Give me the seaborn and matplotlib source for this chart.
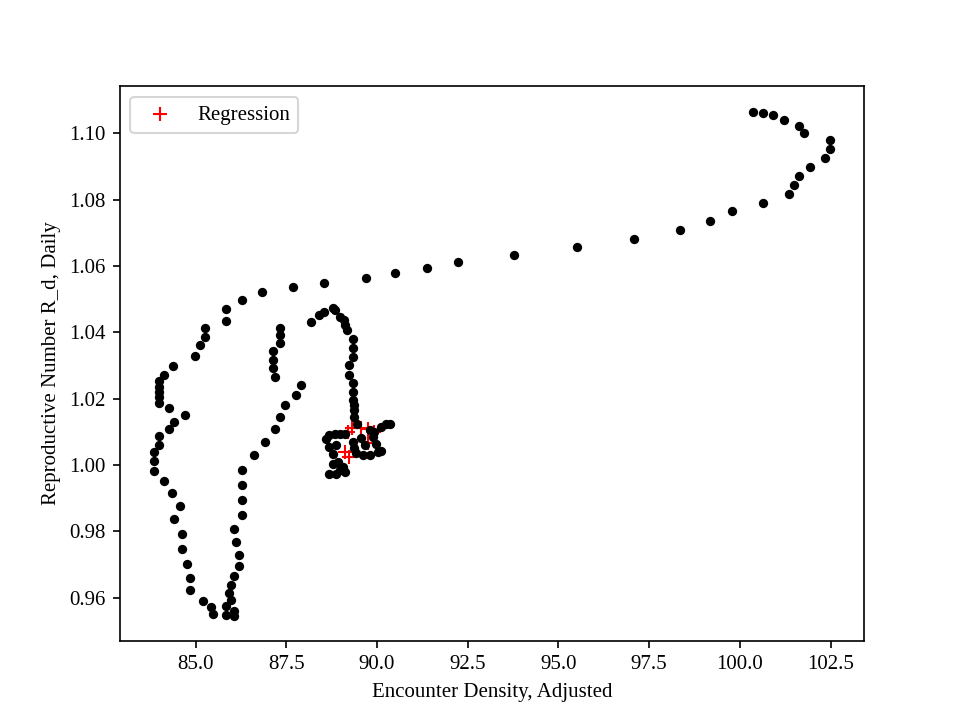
import numpy as np
import pandas as pd
import matplotlib
matplotlib.use("Agg")
import matplotlib.pyplot as plt
import seaborn as sns

# observed trajectory (encounter density vs daily reproductive number)
density = [100.36, 100.63, 100.91, 101.22, 101.63, 101.76, 102.49, 102.49, 102.34, 101.93,
           101.63, 101.50, 101.35, 100.63, 99.78, 99.19, 98.35, 97.08, 95.51, 93.79,
           92.22, 91.37, 90.51, 89.69, 88.54, 87.68, 86.83, 86.28, 85.84, 85.84,
           85.26, 85.26, 85.12, 84.98, 84.39, 84.13, 83.99, 83.99, 83.99, 83.99,
           83.99, 84.26, 84.71, 84.40, 84.26, 83.99, 83.99, 83.85, 83.85, 83.85,
           84.13, 84.35, 84.57, 84.40, 84.62, 84.62, 84.76, 84.84, 84.84, 85.20,
           85.42, 85.48, 85.84, 86.06, 86.06, 85.84, 85.98, 85.92, 85.97, 86.06,
           86.19, 86.19, 86.11, 86.06, 86.28, 86.28, 86.28, 86.28, 86.61, 86.91,
           87.19, 87.32, 87.46, 87.76, 87.90, 87.19, 87.13, 87.13, 87.13, 87.32,
           87.32, 87.32, 88.18, 88.40, 88.54, 88.78, 88.85, 88.97, 89.09, 89.13,
           89.17, 89.34, 89.34, 89.34, 89.24, 89.24, 89.34, 89.34, 89.34, 89.36,
           89.38, 89.38, 89.45, 90.26, 90.12, 89.93, 89.80, 89.89, 89.98, 88.69,
           88.83, 88.97, 89.11, 88.60, 88.69, 88.78, 88.88, 89.34, 89.38, 89.43,
           89.61, 89.80, 90.02, 90.12, 88.78, 88.92, 88.97, 88.88, 88.69, 89.06,
           89.11, 89.55, 89.66, 90.37]
r_daily = [1.1066, 1.1063, 1.1055, 1.1042, 1.1023, 1.1002, 1.0979, 1.0952, 1.0927, 1.0900,
           1.0873, 1.0846, 1.0818, 1.0790, 1.0765, 1.0736, 1.0709, 1.0682, 1.0657, 1.0633,
           1.0612, 1.0595, 1.0579, 1.0565, 1.0550, 1.0536, 1.0521, 1.0497, 1.0470, 1.0435,
           1.0412, 1.0386, 1.0361, 1.0328, 1.0298, 1.0273, 1.0254, 1.0236, 1.0221, 1.0206,
           1.0188, 1.0171, 1.0150, 1.0131, 1.0110, 1.0087, 1.0062, 1.0038, 1.0013, 0.9983,
           0.9953, 0.9917, 0.9878, 0.9838, 0.9793, 0.9747, 0.9702, 0.9660, 0.9623, 0.9590,
           0.9571, 0.9551, 0.9548, 0.9546, 0.9561, 0.9576, 0.9593, 0.9614, 0.9638, 0.9666,
           0.9696, 0.9729, 0.9768, 0.9808, 0.9850, 0.9895, 0.9941, 0.9986, 1.0029, 1.0071,
           1.0110, 1.0146, 1.0180, 1.0210, 1.0240, 1.0267, 1.0292, 1.0316, 1.0343, 1.0367,
           1.0391, 1.0412, 1.0431, 1.0452, 1.0461, 1.0475, 1.0468, 1.0448, 1.0438, 1.0422,
           1.0407, 1.0379, 1.0354, 1.0327, 1.0302, 1.0273, 1.0246, 1.0221, 1.0196, 1.0181,
           1.0165, 1.0145, 1.0123, 1.0125, 1.0115, 1.0100, 1.0105, 1.0085, 1.0065, 1.0090,
           1.0095, 1.0095, 1.0095, 1.0080, 1.0054, 1.0034, 1.0060, 1.0070, 1.0050, 1.0035,
           1.0029, 1.0029, 1.0039, 1.0042, 1.0004, 1.0009, 0.9984, 0.9974, 0.9974, 0.9994,
           0.9979, 1.0081, 1.0060, 1.0125]

# regression fit points (mostly hidden under the cluster)
reg_density = [89.19, 89.30, 89.55, 89.74, 89.13, 89.22, 89.74, 89.91]
reg_r = [1.0099, 1.0113, 1.0113, 1.0110, 1.0038, 1.0023, 1.0066, 1.0099]

df = pd.DataFrame({"density": density, "r": r_daily})
df_reg = pd.DataFrame({"density": reg_density, "r": reg_r})

plt.rcParams["font.family"] = ["Liberation Serif", "DejaVu Serif"]
plt.rcParams["font.size"] = 10

fig, ax = plt.subplots(figsize=(6.4, 4.8), dpi=150)
sns.scatterplot(data=df_reg, x="density", y="r", color="red", marker="+",
                s=40, linewidth=1.0, label="Regression", ax=ax, zorder=2)
sns.scatterplot(data=df, x="density", y="r", color="black", s=20,
                linewidth=0, ax=ax, zorder=3)

ax.set_xlabel("Encounter Density, Adjusted")
ax.set_ylabel("Reproductive Number R_d, Daily")
ax.legend(loc="upper left")

plt.savefig("out.png", dpi=150)
